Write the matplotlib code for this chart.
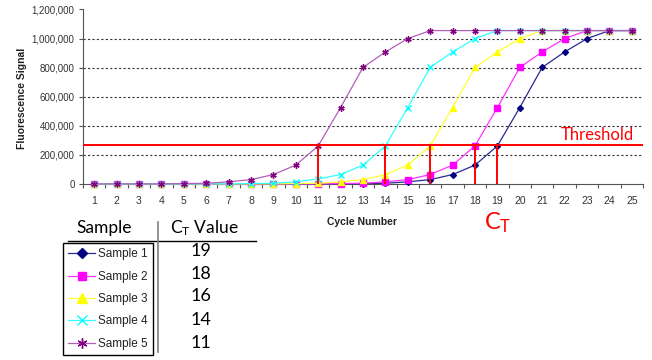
import matplotlib
matplotlib.use("Agg")
import matplotlib.pyplot as plt
from matplotlib.lines import Line2D

plt.rcParams['font.family'] = ['Liberation Sans', 'DejaVu Sans']

cycles = list(range(1, 26))
sample_names = ["Sample 1", "Sample 2", "Sample 3", "Sample 4", "Sample 5"]
sample1 = [1000, 1000, 1000, 1000, 1000, 1000, 1000, 1000, 1000, 1000, 1000, 1000,
           3000, 5000, 15000, 30000, 65000, 130000, 262000, 526000, 802000, 908000,
           1000000, 1055000, 1055000]
sample2 = [1000, 1000, 1000, 1000, 1000, 1000, 1000, 1000, 1000, 1000, 1000,
           3000, 5000, 15000, 30000, 65000, 130000, 262000, 526000, 802000, 908000,
           1000000, 1055000, 1055000, 1055000]
sample3 = [1000, 1000, 1000, 1000, 1000, 1000, 1000, 1000, 1000,
           3000, 5000, 15000, 30000, 65000, 130000, 262000, 526000, 802000, 908000,
           1000000, 1055000, 1055000, 1055000, 1055000, 1055000]
sample4 = [1000, 1000, 1000, 1000, 1000, 1000, 1000,
           3000, 5000, 15000, 35000, 65000, 130000, 262000, 526000, 802000, 908000,
           1000000, 1055000, 1055000, 1055000, 1055000, 1055000, 1055000, 1055000]
sample5 = [1000, 1000, 1000, 1000, 3000, 5000, 15000, 30000, 65000, 130000, 262000,
           526000, 802000, 908000, 1000000, 1055000, 1055000, 1055000, 1055000, 1055000,
           1055000, 1055000, 1055000, 1055000, 1055000]
ct_values = [19, 18, 16, 14, 11]
threshold = 265000
y_ticks = [0, 200000, 400000, 600000, 800000, 1000000, 1200000]

series = [sample1, sample2, sample3, sample4, sample5]
line_colors = ['#2a2a90', '#FF33FF', '#FFFF33', '#33FFFF', '#B060B8']
mark_colors = ['#000080', '#FF00FF', '#FFFF00', '#00FFFF', '#800080']
markers = ['D', 's', '^', 'x', (6, 2, 0)]
msizes = [3, 4, 4.5, 4.5, 4.5]

W, H = 652, 360
fig = plt.figure(figsize=(W / 100, H / 100), dpi=100)
ax = fig.add_axes([83 / W, 1 - 184 / H, (643 - 83) / W, (184 - 9.5) / H])

handles = []
for s, lc, mc, m, ms, name in zip(series, line_colors, mark_colors, markers, msizes, sample_names):
    h, = ax.plot(cycles, s, color=lc, marker=m, markersize=ms, lw=0.9,
                 markerfacecolor=mc, markeredgecolor=mc,
                 markeredgewidth=1.0, clip_on=False, label=name, zorder=3)
    handles.append(h)

ax.set_xlim(0.5, 25.5)
ax.set_ylim(0, 1200000)
ax.set_yticks(y_ticks)
ax.set_yticklabels([f"{v:,}" for v in y_ticks], fontsize=7, color='#333333')
ax.set_xticks(cycles)
ax.set_xticklabels([str(c) for c in cycles], fontsize=7.5, color='#333333')
ax.set_xticks([c + 0.5 for c in range(0, 26)], minor=True)
ax.tick_params(axis='x', which='major', length=0, pad=9)
ax.tick_params(axis='x', which='minor', length=3, width=0.8, direction='out', color='#555555')
ax.tick_params(axis='y', length=3, width=0.8, pad=3, color='#555555')
for sp in ['top', 'right']:
    ax.spines[sp].set_visible(False)
ax.spines['left'].set_color('#555555')
ax.spines['bottom'].set_color('#555555')
for v in y_ticks[1:-1]:
    ax.axhline(v, color='#333333', lw=0.8, ls=(0, (2, 2)), zorder=1)

ax.axhline(threshold, color='#FF0000', lw=1.4, zorder=4)
ax.vlines(ct_values, 0, threshold, color='#FF0000', lw=1.4, zorder=4, clip_on=False)
ax.text(21.85, threshold + 14000, "Threshold", color='#FF0000', fontsize=12,
        family=['Lato', 'DejaVu Sans'], ha='left', va='bottom')

fig.text(22 / W, 1 - 98 / H, "Fluorescence Signal", rotation=90, fontsize=7.5,
         fontweight='bold', ha='center', va='center', color='#222222')
fig.text(362 / W, 1 - 222 / H, "Cycle Number", fontsize=7.5, fontweight='bold',
         ha='center', va='center', color='#222222')
fig.text(484 / W, 1 - 229 / H, r"$\mathregular{C_T}$", color='#FF0000', fontsize=17,
         family=['Lato', 'DejaVu Sans'], ha='left', va='baseline')

# table
tfam = ['Lato', 'DejaVu Sans']
fig.text(104 / W, 1 - 228 / H, "Sample", fontsize=12.5, family=tfam, ha='center', va='center')
fig.text(170 / W, 1 - 228 / H, r"$\mathregular{C_T}$ Value", fontsize=12.5, family=tfam,
         ha='left', va='center')
fig.add_artist(Line2D([68 / W, 256 / W], [1 - 241 / H] * 2, transform=fig.transFigure,
                      color='black', lw=1.0))
fig.add_artist(Line2D([158 / W, 158 / W], [1 - 222 / H, 1 - 352 / H], transform=fig.transFigure,
                      color='#808080', lw=1.2))
ct_y = [251, 274, 296, 320, 343]
for v, yy in zip(ct_values, ct_y):
    fig.text(201 / W, 1 - yy / H, str(v), fontsize=13, family=tfam, ha='center', va='center')

leg = fig.legend(handles=handles, labels=sample_names, loc='upper left',
                 bbox_to_anchor=(63 / W, 1 - 243 / H), bbox_transform=fig.transFigure,
                 frameon=True, fancybox=False, edgecolor='black', framealpha=1,
                 fontsize=8.5, handlelength=2.3, handletextpad=0.2, labelspacing=0.88,
                 borderpad=0.45, borderaxespad=0, markerscale=1.6)
leg.get_frame().set_linewidth(1.0)
for t in leg.get_texts():
    t.set_color('#222222')

fig.savefig("out.png", dpi=100)
